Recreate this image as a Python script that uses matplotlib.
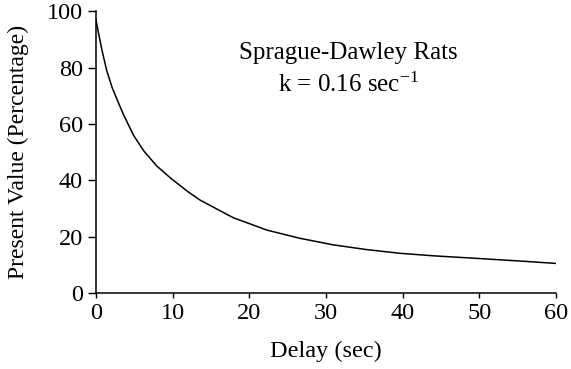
import matplotlib
matplotlib.use("Agg")
import matplotlib.pyplot as plt

delay_sec = [0, 0.35, 0.8, 1.4, 2.1, 2.7, 3.6, 4.9, 6.2, 7.9, 9.7, 12, 13.6, 17.9,
             22.3, 26.6, 30.9, 35.3, 39.6, 44, 49.6, 55, 60]
present_value = [97, 92, 86, 79, 73, 69, 63.3, 56, 50.6, 45.2, 40.9, 36.0, 33.0, 26.8,
                 22.4, 19.5, 17.2, 15.5, 14.2, 13.3, 12.4, 11.5, 10.6]
x_ticks = [0, 10, 20, 30, 40, 50, 60]
y_ticks = [0, 20, 40, 60, 80, 100]

plt.rcParams['font.family'] = ['Liberation Serif', 'DejaVu Serif']
plt.rcParams['mathtext.fontset'] = 'custom'
plt.rcParams['mathtext.rm'] = 'Liberation Serif'
plt.rcParams['mathtext.it'] = 'Liberation Serif:italic'

fig = plt.figure(figsize=(5.71, 3.69), dpi=100)
ax = fig.add_axes([0.168, 0.205, 0.806, 0.765])
ax.plot(delay_sec, present_value, color='black', lw=1.1, solid_joinstyle='round')
ax.set_xlim(0, 60)
ax.set_ylim(0, 100)
ax.set_xticks(x_ticks)
ax.set_yticks(y_ticks)
for s in ['top', 'right']:
    ax.spines[s].set_visible(False)
for s in ['left', 'bottom']:
    ax.spines[s].set_linewidth(1.1)
ax.tick_params(axis='x', direction='out', length=3.6, width=1.0, labelsize=17.5, pad=3.5)
ax.tick_params(axis='y', direction='out', length=5.5, width=1.0, labelsize=17.5, pad=4)
ax.set_xlabel('Delay (sec)', fontsize=17.5, labelpad=12)
ax.set_ylabel('Present Value (Percentage)', fontsize=17, labelpad=13)
ax.text(0.548, 0.851, 'Sprague-Dawley Rats', transform=ax.transAxes, ha='center', va='center', fontsize=18)
ax.text(0.548, 0.738, r'k = 0.16 sec$^{\mathregular{-1}}$', transform=ax.transAxes, ha='center', va='center', fontsize=18)
fig.savefig('out.png', dpi=100)
